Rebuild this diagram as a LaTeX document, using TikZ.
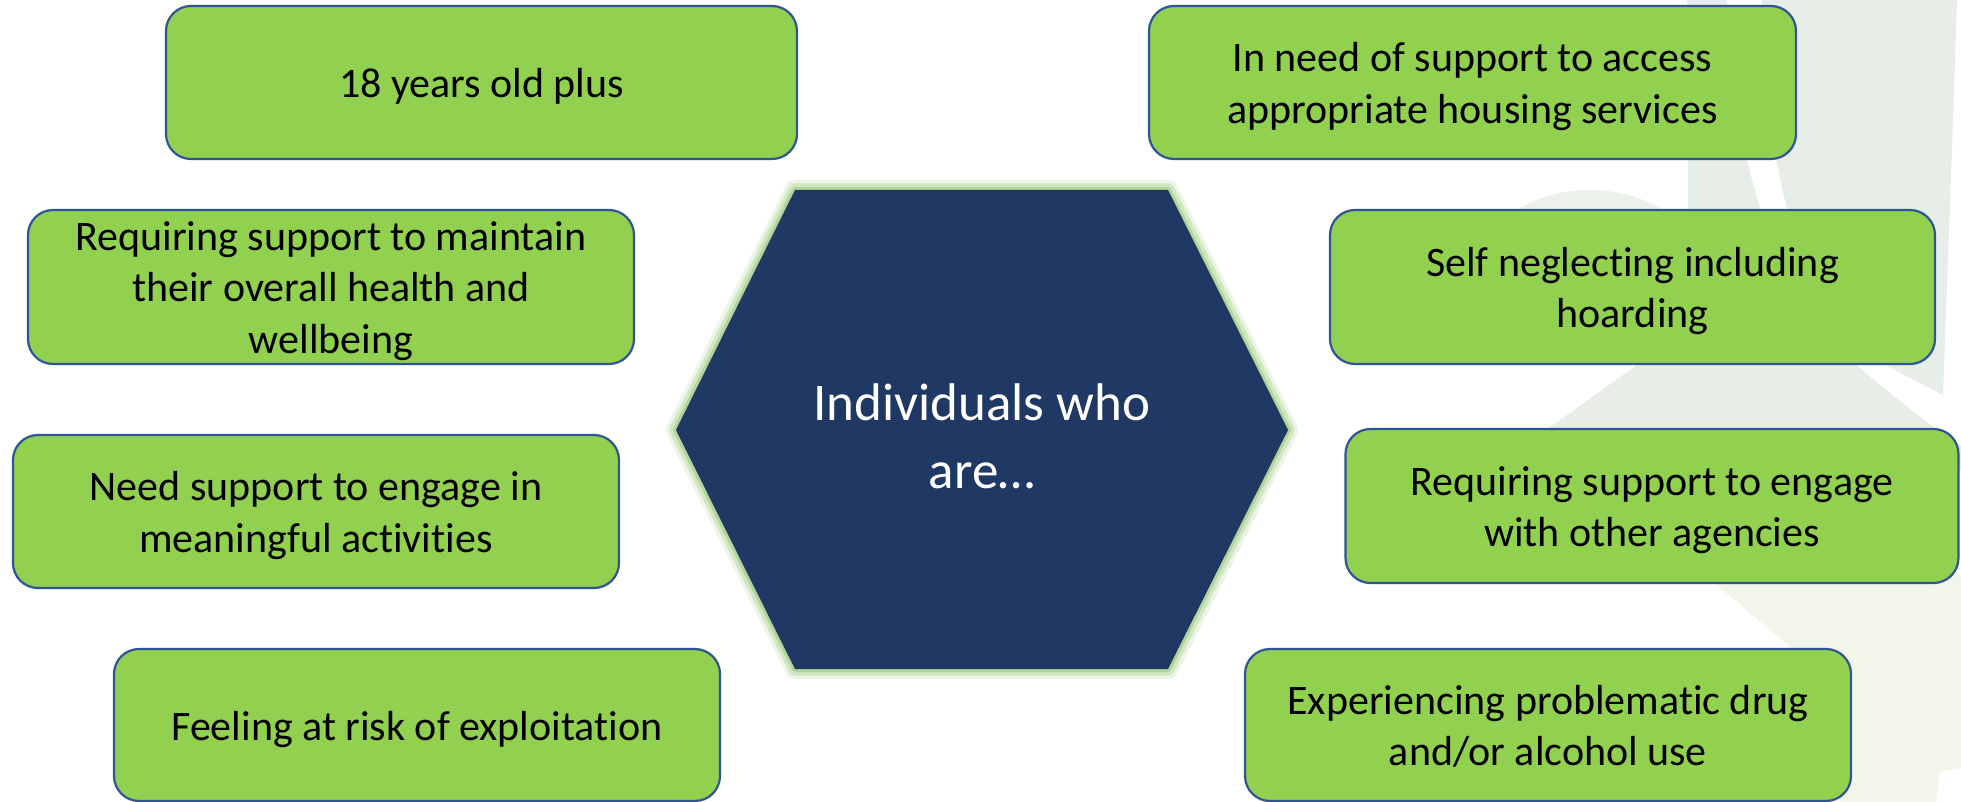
\documentclass[tikz,border=0pt]{standalone}
\usepackage{fontspec}
\setmainfont{Carlito}[Ligatures=NoCommon]
\definecolor{boxgreen}{HTML}{92D050}
\definecolor{boxline}{HTML}{2F5597}
\definecolor{hexblue}{HTML}{203864}
\definecolor{glow}{HTML}{A9D18E}
\definecolor{wmgrey}{HTML}{E7EEE7}
\definecolor{wmblob}{HTML}{ECF2E9}
\definecolor{wmlight}{HTML}{F2F6EA}
\begin{document}
\begin{tikzpicture}[x=0.5pt,y=-0.5pt,
  infobox/.style={draw=boxline, line width=1.1pt, fill=boxgreen, rounded corners=12.5pt,
    align=flush center, text width=285pt, inner sep=0pt, text=black, font=\fontsize{21}{25.6}\selectfont,
    execute at begin node={\rule{0pt}{20pt}},
    execute at end node={\rule[-5pt]{0pt}{5pt}}},
  hexlabel/.style={align=center, text=white, font=\fontsize{26.5}{34}\selectfont},
]
\useasboundingbox (0,0) rectangle (1961,802);
\fill[white] (0,0) rectangle (1961,802);
% faint watermark shapes
\fill[wmblob] (1590,270) ellipse [x radius=55pt, y radius=40pt];
\fill[wmgrey] (1687,0) -- (1727,0) .. controls (1735,150) and (1760,260) .. (1845,355)
  .. controls (1890,395) and (1930,425) .. (1961,446) -- (1961,470) -- (1490,470)
  -- (1658,350) .. controls (1680,300) and (1688,250) .. (1688,200) -- cycle;
\fill[wmgrey] (1762,0) -- (1957,0) -- (1952,150) -- (1943,395) -- (1872,358)
  .. controls (1810,290) and (1785,220) .. (1775,150)
  .. controls (1770,100) and (1765,50) .. (1762,0) -- cycle;
\fill[wmlight] (1705,575) -- (1961,575) -- (1961,768) -- (1940,772) -- (1936,802)
  -- (1840,802) -- (1840,700) -- (1800,655) -- cycle;
% hexagon
\coordinate (h1) at (795,190);
\coordinate (h2) at (1168,190);
\coordinate (h3) at (1288,430);
\coordinate (h4) at (1168,669);
\coordinate (h5) at (795,669);
\coordinate (h6) at (676,430);
\draw[glow, line width=10pt, opacity=0.22, line join=round] (h1)--(h2)--(h3)--(h4)--(h5)--(h6)--cycle;
\draw[glow, line width=6.5pt, opacity=0.4, line join=round] (h1)--(h2)--(h3)--(h4)--(h5)--(h6)--cycle;
\draw[glow, line width=3pt, opacity=0.8, line join=round] (h1)--(h2)--(h3)--(h4)--(h5)--(h6)--cycle;
\fill[hexblue] (h1)--(h2)--(h3)--(h4)--(h5)--(h6)--cycle;
\node[hexlabel] (hex) at (982,436) {Individuals who\\are\dots};
% boxes left
\node[infobox, minimum width=315.5pt, minimum height=76.5pt] (b1) at (481.5,82.5) {18 years old plus};
\node[infobox, minimum width=303pt, minimum height=77pt] (b2) at (331,287) {Requiring support to maintain\\their overall health and\\wellbeing};
\node[infobox, minimum width=303pt, minimum height=76.5pt] (b3) at (316,511.5) {Need support to engage in\\meaningful activities};
\node[infobox, minimum width=303pt, minimum height=76pt] (b4) at (417,725) {Feeling at risk of exploitation};
% boxes right
\node[infobox, minimum width=323.5pt, minimum height=76.5pt] (b5) at (1472.5,82.5) {In need of support to access\\appropriate housing services};
\node[infobox, minimum width=302.5pt, minimum height=77pt] (b6) at (1632.5,287) {Self neglecting including\\hoarding};
\node[infobox, minimum width=306.5pt, minimum height=77pt] (b7) at (1652,506) {Requiring support to engage\\with other agencies};
\node[infobox, minimum width=303pt, minimum height=76pt] (b8) at (1548,725) {Experiencing problematic drug\\and/or alcohol use};
\end{tikzpicture}
\end{document}
